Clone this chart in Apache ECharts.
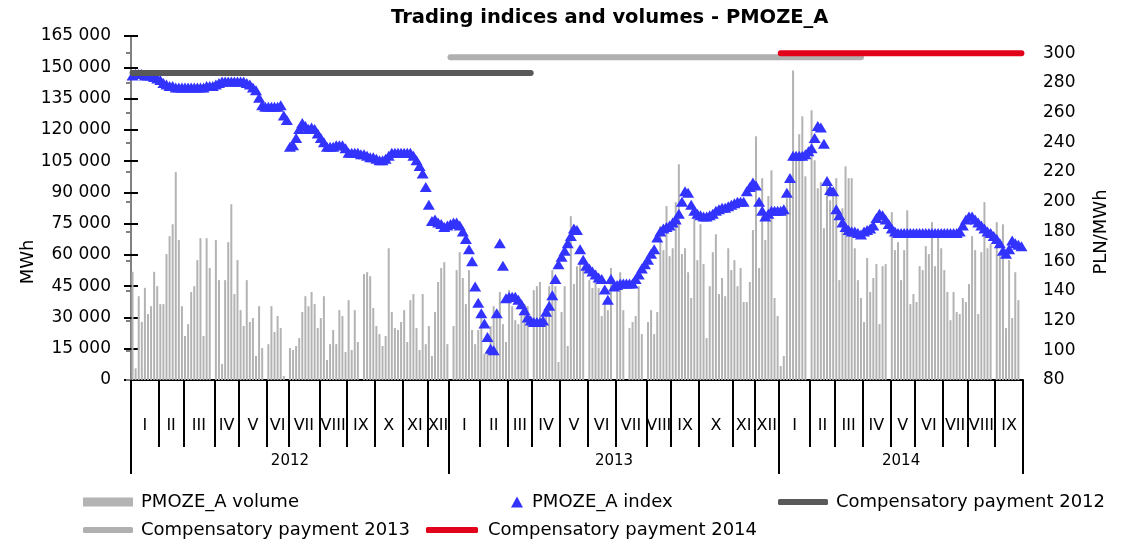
<!DOCTYPE html>
<html>
<head>
<meta charset="utf-8">
<title>PMOZE_A</title>
<script src="https://cdn.jsdelivr.net/npm/echarts@6/dist/echarts.min.js"></script>
<style>
  html, body { margin: 0; padding: 0; background: #fff; }
  #chart { width: 1124px; height: 543px; }
</style>
</head>
<body>
<div id="chart"></div>
<script>
const monthNames = ['I', 'II', 'III', 'IV', 'V', 'VI', 'VII', 'VIII', 'IX', 'X', 'XI', 'XII']
const years = ['2012', '2013', '2014']

// number of trading sessions in each month
const sessions2012 = [9, 8, 10, 8, 9, 7, 10, 9, 9, 9, 8, 7]
const sessions2013 = [10, 9, 8, 9, 9, 9, 10, 8, 9, 11, 7, 8]
const sessions2014 = [10, 8, 9, 9, 8, 9, 8, 9, 9]

// PMOZE_A volume, MWh (one value per session, null = no trade)
const volume2012 = [
  51900, 5600, 40200, 27900, 44200, 31600, 35400, 51900, 45000,
  36400, 36400, 60400, 69000, 74700, 99700, 67100, 35400,
  21100, 26800, 42200, 45000, 57500, 68000, 21100, 68000, 53700, null,
  67100, 47900, 7700, 47900, 66100, 84300, 41200, 57500,
  33500, 25900, 47900, 27800, 29700, 11500, 35400, 15300, null,
  17200, 35400, 23000, 30700, 24900, 1900, null,
  15300, 14400, 16300, 20100, 32600, 40200, 35400, 42200, 36400, 24900,
  29700, 40200, 9600, 17200, 24000, 17200, 33500, 30700, 13400,
  38300, 14400, 33500, 18200, null, 50800, 51700, 49800, 34500,
  25900, 22000, 16300, 21100, 63200, 32600, 24900, 24000, 27800,
  33500, 18200, 38300, 41200, 24900, 14400, 41200, 17200,
  25900, 11500, 32600, 47000, 53700, 56500, 17200
]
const volume2013 = [
  null, 25900, 52700, 61300, 48900, 36400, 52700, 24000, 17200, 24000,
  30700, 12500, 14400, 25900, 35400, 33500, 42200, 26800, 18200,
  43100, 35400, 28700, 26800, 32600, 36400, 35400, null,
  43100, 45000, 47000, 25900, 33500, 45000, 52700, 45000, 8600,
  32600, 45000, 16300, 78600, 46000, 54600, 55600, 52700, null,
  47900, 44100, 52700, 44100, 30700, 38300, 33500, 53700, null,
  43100, 51700, 33500, null, 24900, 27800, 30700, 45000, 22000, null,
  27800, 33500, 22000, 32600, 73800, 62300, 83400, 59400,
  63200, 85300, 103500, 60400, 63200, 51700, 39300, 77600, 57500,
  74700, 55600, 20100, 45000, 61300, 69900, 41200, 48900, 40200, 63200, 52700,
  57500, 45000, 53700, 37400, 37400, 47000, 71900,
  116900, 53700, 96800, 67100, 88200, 100600, 39300, 30700
]
const volume2014 = [
  6700, 11500, 87200, 95800, 148500, 107300, 117900, 126500, 97700, null,
  129400, 105400, 92000, 94900, 72800, 96800, 86200, 90100,
  96800, 47900, 82400, 102500, 96800, 96800, 63200, 47900, 39300,
  27800, 58500, 42200, 48900, 55600, 26800, 54600, 55600, null,
  80500, 62300, 66100, 47900, 62300, 81400, 36400, 41200,
  37400, 54600, 52700, 64200, 60400, 75700, 54600, 69000, 63200,
  52700, 42200, 28700, 42200, 32600, 31600, 39300, 37400,
  46000, 69000, 62300, 31600, 61300, 85300, 63200, 65200, null,
  75700, 59400, 74700, 24900, 57500, 29700, 51700, 38300, null
]

// PMOZE_A index, PLN/MWh
const index2012 = [
  285, 286, 286, 286, 285, 285, 285, 284, 283,
  282, 280, 279, 278, 278, 277, 277, 277,
  277, 277, 277, 277, 277, 277, 277, 278, 278, 278,
  279, 280, 281, 281, 281, 281, 281, 281,
  281, 281, 280, 279, 277, 275, 270, 265, 264,
  264, 264, 264, 264, 265, 258, 255,
  237, 238, 243, 249, 253, 251, 249, 250, 249, 246,
  243, 240, 237, 237, 237, 238, 238, 238, 236,
  233, 233, 233, 233, 232, 232, 231, 230, 230,
  229, 228, 228, 229, 231, 233, 233, 233, 233,
  233, 233, 233, 231, 228, 224, 219, 210,
  198, 187, 188, 186, 185, 183, 184
]
const index2013 = [
  185, 186, 186, 184, 180, 175, 168, 160, 143, 132,
  125, 118, 109, 101, 100, 125, 172, 157, 135,
  136, 136, 136, 134, 131, 127, 122, 120,
  119, 119, 119, 120, 126, 130, 137, 148, 158,
  163, 167, 172, 177, 182, 181, 168, 161, 157,
  155, 153, 151, 149, 148, 141, 134, 148, 143,
  144, 145, 145, 145, 145, 145, 148, 151, 155, 158,
  161, 165, 168, 176, 180, 182, 183, 184,
  186, 188, 192, 200, 207, 206, 198, 194, 192,
  191, 190, 190, 191, 192, 194, 195, 196, 196, 197, 198,
  199, 200, 200, 200, 207, 210, 213,
  211, 200, 194, 190, 192, 194, 194, 194
]
const index2014 = [
  194, 195, 206, 216, 231, 231, 231, 231, 232, 234,
  236, 243, 251, 250, 239, 214, 208, 207,
  195, 191, 186, 183, 181, 180, 180, 179, 178,
  180, 181, 182, 184, 189, 192, 191, 188, 185,
  182, 180, 179, 179, 179, 179, 179, 179,
  179, 179, 179, 179, 179, 179, 179, 179, 179,
  179, 179, 179, 179, 179, 180, 184, 188,
  190, 190, 188, 186, 184, 182, 180, 179, 177,
  175, 172, 167, 165, 168, 174, 172, 171, 170
]

// compensatory payment per year, PLN/MWh
const compensatoryRates = [286.74, 297.35, 300.03]

const FONT = 'DejaVu Sans'
const sessionsByYear = [sessions2012, sessions2013, sessions2014]
const volume = [].concat(volume2012, volume2013, volume2014)
const index = [].concat(index2012, index2013, index2014)

// categories = sessions, plus month and year edges for the two label rows
const categories = []
const monthEdges = [0]
const monthMids = {}
const yearEdges = [0]
const yearMids = {}
sessionsByYear.forEach((counts, y) => {
  const yearStart = categories.length
  counts.forEach((n, m) => {
    const start = categories.length
    for (let k = 1; k <= n; k++) categories.push(years[y] + '-' + monthNames[m] + '-' + k)
    monthEdges.push(categories.length)
    monthMids[start + n / 2] = monthNames[m]
  })
  yearEdges.push(categories.length)
  yearMids[(yearStart + categories.length) / 2] = years[y]
})
const total = categories.length

// the payment of a year is shown until the end of March of the next year
function compensatoryLine(y) {
  const from = yearEdges[y]
  let to = total
  if (y + 1 < years.length) {
    to = yearEdges[y + 1] + sessionsByYear[y + 1].slice(0, 3).reduce((a, b) => a + b, 0)
  }
  return categories.map((c, i) => (i >= from && i < to ? compensatoryRates[y] : null))
}

function thousands(v) {
  return String(v).replace(/\B(?=(\d{3})+(?!\d))/g, ' ')
}

const volumeTicks = []
for (let v = 0; v <= 165000; v += 15000) volumeTicks.push(v)

const compColors = ['#595959', '#b0b0b0', '#e2001a']
const compNames = years.map(y => 'Compensatory payment ' + y)

const chart = echarts.init(document.getElementById('chart'))
chart.setOption({
  animation: false,
  textStyle: { fontFamily: FONT },
  title: {
    text: 'Trading indices and volumes - PMOZE_A',
    left: 386,
    top: 3,
    textStyle: { fontFamily: FONT, fontSize: 19.5, fontWeight: 'bold', color: '#000' }
  },
  grid: { left: 131, right: 101, top: 36, bottom: 163 },
  xAxis: [
    { type: 'category', data: categories, show: false },
    {
      type: 'value',
      min: 0,
      max: total,
      position: 'bottom',
      axisLine: { show: true, onZero: false, lineStyle: { color: '#000', width: 2 } },
      axisTick: { show: true, customValues: monthEdges, length: 67, lineStyle: { color: '#000', width: 2 } },
      axisLabel: {
        customValues: Object.keys(monthMids).map(Number),
        formatter: v => monthMids[v] || '',
        margin: 38,
        fontSize: 16,
        color: '#000'
      },
      splitLine: { show: false }
    },
    {
      type: 'value',
      min: 0,
      max: total,
      position: 'bottom',
      axisLine: { show: false, onZero: false },
      axisTick: { show: true, customValues: yearEdges, length: 94, lineStyle: { color: '#000', width: 2 } },
      axisLabel: {
        customValues: Object.keys(yearMids).map(Number),
        formatter: v => yearMids[v] || '',
        margin: 74,
        fontSize: 15,
        color: '#000'
      },
      splitLine: { show: false }
    }
  ],
  yAxis: [
    {
      type: 'value',
      min: 0,
      max: 165000,
      interval: 15000,
      position: 'left',
      axisLine: { show: true, lineStyle: { color: '#000', width: 2 } },
      axisTick: { show: true, length: 7, lineStyle: { color: '#000', width: 2 } },
      axisLabel: { formatter: thousands, fontSize: 17, color: '#000', margin: 20 },
      splitLine: { show: false }
    },
    {
      type: 'value',
      min: 80,
      max: 311.6,
      interval: 20,
      position: 'right',
      axisLine: { show: true, lineStyle: { color: '#808080', width: 2 } },
      axisTick: { show: true, inside: true, length: 5, lineStyle: { color: '#808080', width: 2 } },
      axisLabel: {
        formatter: v => (v % 20 === 0 ? String(v) : ''),
        showMaxLabel: false,
        fontSize: 17,
        color: '#000',
        margin: 20
      },
      splitLine: { show: false }
    },
    {
      // inner half of the crossing ticks on the left axis
      type: 'value',
      min: 0,
      max: 165000,
      position: 'left',
      axisLine: { show: false },
      axisTick: { show: true, inside: true, length: 7, customValues: volumeTicks, lineStyle: { color: '#000', width: 2 } },
      axisLabel: { show: false },
      splitLine: { show: false }
    }
  ],
  graphic: [
    {
      type: 'text',
      x: 28,
      y: 262,
      rotation: Math.PI / 2,
      style: { text: 'MWh', font: '18px "DejaVu Sans"', fill: '#000', align: 'center', verticalAlign: 'middle' }
    },
    {
      type: 'text',
      x: 1101,
      y: 232,
      rotation: Math.PI / 2,
      style: { text: 'PLN/MWh', font: '18px "DejaVu Sans"', fill: '#000', align: 'center', verticalAlign: 'middle' }
    }
  ],
  legend: [
    {
      data: ['PMOZE_A volume'], left: 83, top: 493, padding: 0, selectedMode: false,
      icon: 'rect', itemWidth: 50, itemHeight: 9,
      textStyle: { fontSize: 18, color: '#000', padding: [0, 0, 0, 3] }
    },
    {
      data: ['PMOZE_A index'], left: 511, top: 493, padding: 0, selectedMode: false,
      icon: 'triangle', itemWidth: 12, itemHeight: 11,
      textStyle: { fontSize: 18, color: '#000', padding: [0, 0, 0, 4] }
    },
    {
      data: [compNames[0]], left: 778, top: 493, padding: 0, selectedMode: false,
      icon: 'roundRect', itemWidth: 50, itemHeight: 6,
      textStyle: { fontSize: 18, color: '#000', padding: [0, 0, 0, 3] }
    },
    {
      data: [compNames[1]], left: 83, top: 521, padding: 0, selectedMode: false,
      icon: 'roundRect', itemWidth: 50, itemHeight: 6,
      textStyle: { fontSize: 18, color: '#000', padding: [0, 0, 0, 3] }
    },
    {
      data: [compNames[2]], left: 426, top: 521, padding: 0, selectedMode: false,
      icon: 'roundRect', itemWidth: 52, itemHeight: 6,
      textStyle: { fontSize: 18, color: '#000', padding: [0, 0, 0, 5] }
    }
  ],
  series: [
    {
      name: 'PMOZE_A volume',
      type: 'bar',
      xAxisIndex: 0,
      yAxisIndex: 0,
      data: volume,
      barWidth: 2,
      itemStyle: { color: '#b3b3b3' }
    },
    {
      name: 'PMOZE_A index',
      type: 'scatter',
      xAxisIndex: 0,
      yAxisIndex: 1,
      data: index,
      symbol: 'triangle',
      symbolSize: [12, 10],
      itemStyle: { color: '#3333ff', opacity: 1 }
    }
  ].concat(years.map((y, i) => ({
    name: compNames[i],
    type: 'line',
    xAxisIndex: 0,
    yAxisIndex: 1,
    data: compensatoryLine(i),
    showSymbol: false,
    connectNulls: false,
    z: 3 + i,
    lineStyle: { color: compColors[i], width: 6, cap: 'round' },
    itemStyle: { color: compColors[i] }
  })))
})
</script>
</body>
</html>
